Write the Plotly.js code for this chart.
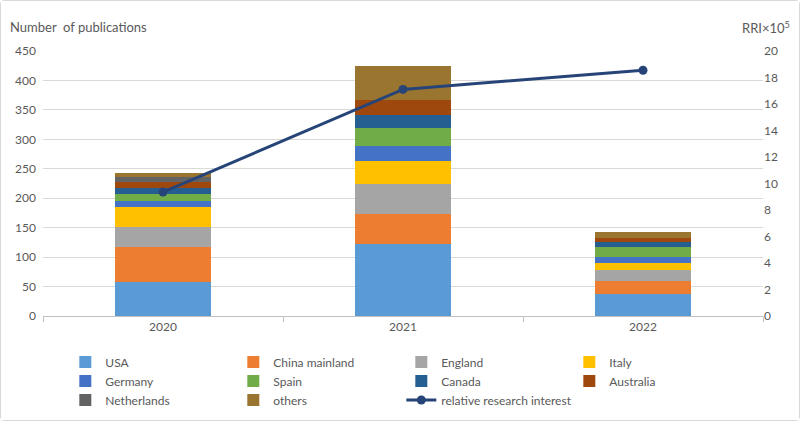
<!DOCTYPE html>
<html>
<head>
<meta charset="utf-8">
<script src="https://cdn.plot.ly/plotly-3.0.1.min.js"></script>
<style>
html,body{margin:0;padding:0;background:#fff;}
#chart{width:798px;height:419px;border:1px solid #d9d9d9;border-radius:4px;}
</style>
</head>
<body>
<div id="chart"></div>
<script>
const years = ['2020', '2021', '2022'];
const countries = ['USA', 'China mainland', 'England', 'Italy', 'Germany', 'Spain', 'Canada', 'Australia', 'Netherlands', 'others'];
const USA = [57, 122, 37];
const chinaMainland = [60, 51, 23];
const england = [34, 51, 18];
const italy = [34, 39, 12];
const germany = [11, 25, 11];
const spain = [12, 31, 16];
const canada = [10, 23, 8];
const australia = [10, 24, 8];
const netherlands = [8, 0, 0];
const others = [7, 58, 9];
const rri = [9.35, 17.1, 18.55];
const seriesValues = [USA, chinaMainland, england, italy, germany, spain, canada, australia, netherlands, others];
const colors = ['#5b9bd5', '#ed7d31', '#a5a5a5', '#ffc000', '#4472c4', '#70ad47', '#255e91', '#9e480e', '#636363', '#9a7530'];

const font = {family: 'Lato, "Open Sans", sans-serif', size: 12, color: '#595959'};
const traces = countries.map((name, i) => ({
  type: 'bar', name: name, x: years, y: seriesValues[i],
  marker: {color: colors[i]}, hoverinfo: 'name+y'
}));
traces.push({
  type: 'scatter', mode: 'lines+markers', name: 'relative research interest',
  x: years, y: rri, yaxis: 'y2',
  line: {color: '#264478', width: 3}, marker: {color: '#264478', size: 9}
});

const layout = {
  width: 798, height: 419,
  margin: {l: 42, r: 36, t: 50, b: 104, autoexpand: false},
  paper_bgcolor: '#fff', plot_bgcolor: '#fff',
  font: font,
  barmode: 'stack', bargap: 0.6,
  showlegend: true,
  legend: {orientation: 'h', x: 0.031, xanchor: 'left', y: -0.119, yanchor: 'top',
           traceorder: 'normal', entrywidth: 123, entrywidthmode: 'pixels',
           font: {family: font.family, size: 12, color: '#595959'}, tracegroupgap: 0, itemwidth: 30},
  xaxis: {type: 'category', showline: true, linecolor: '#bfbfbf', ticks: 'outside', tickson: 'boundaries',
          ticklen: 5, tickcolor: '#bfbfbf', showgrid: false, tickfont: font},
  yaxis: {range: [0, 450], dtick: 50, showgrid: true, gridcolor: '#d9d9d9', zeroline: false,
          showline: false, ticks: '', ticklabelstandoff: 6, tickfont: font},
  yaxis2: {range: [0, 20], dtick: 2, overlaying: 'y', side: 'right', showgrid: false, zeroline: false,
           showline: false, tickfont: font},
  annotations: [
    {xref: 'paper', yref: 'paper', x: -0.048, y: 1.09, xanchor: 'left', yanchor: 'middle', showarrow: false,
     text: 'Number  of publications', font: {family: font.family, size: 13, color: '#595959'}},
    {xref: 'paper', yref: 'paper', x: 1.04, y: 1.09, xanchor: 'right', yanchor: 'middle', showarrow: false,
     text: 'RRI×10<sup>5</sup>', font: {family: font.family, size: 13, color: '#595959'}}
  ]
};
Plotly.newPlot('chart', traces, layout, {displayModeBar: false, staticPlot: true});
</script>
</body>
</html>
